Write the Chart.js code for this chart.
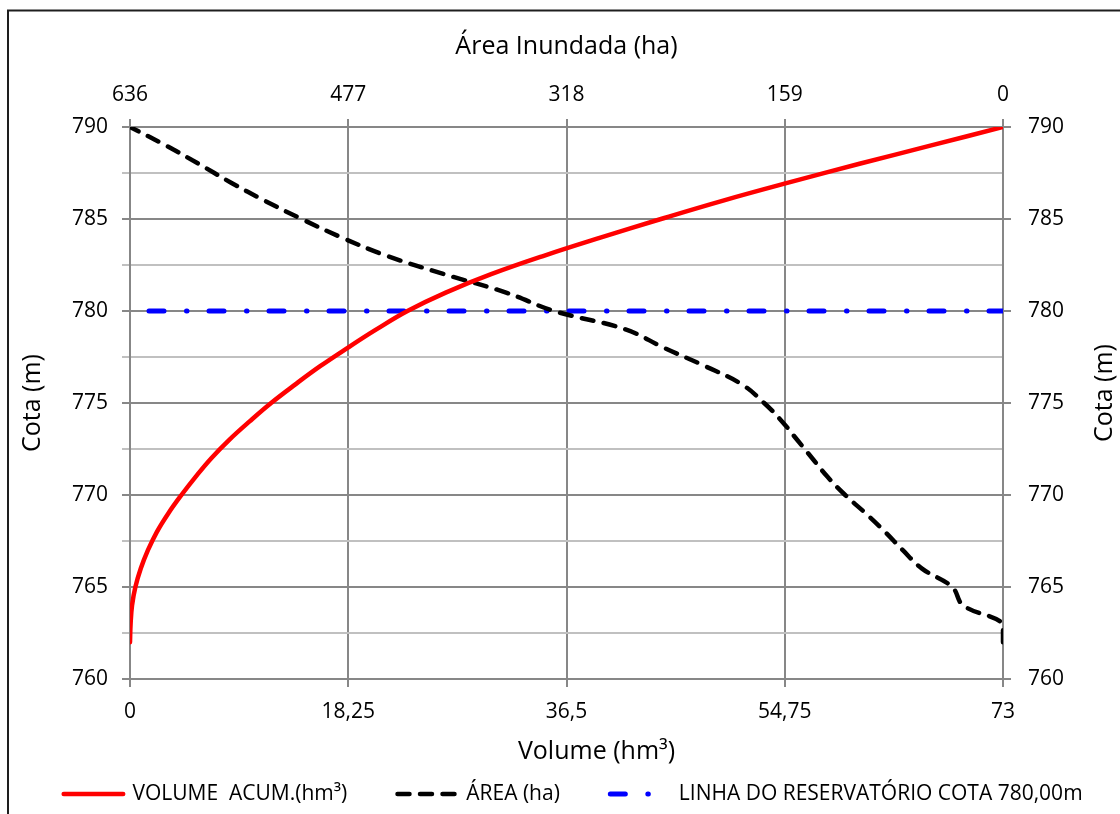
<!DOCTYPE html>
<html lang="pt">
<head>
<meta charset="utf-8">
<title>Cota x Área x Volume</title>
<script src="https://cdn.jsdelivr.net/npm/chart.js@4.4.1/dist/chart.umd.min.js"></script>
<style>
  html, body { margin: 0; padding: 0; background: #fff; }
  #wrap { position: relative; width: 1120px; height: 814px; }
</style>
</head>
<body>
<div id="wrap"><canvas id="grafico"></canvas></div>
<script>
const cotas = [762, 763, 764, 765, 766, 767, 768, 769, 770, 771, 772, 773, 774, 775, 776,
               777, 778, 779, 780, 781, 782, 783, 784, 785, 786, 787, 788, 789, 790];
const volumes = [0, 0.05, 0.17, 0.45, 0.9, 1.5, 2.25, 3.2, 4.3, 5.5, 6.8, 8.3, 10.0, 11.8, 13.8,
                 15.9, 18.2, 20.6, 23.2, 26.4, 30.2, 34.6, 39.4, 44.4, 49.6, 55.2, 61.0, 67.0, 73.0];
const areas = [0, 0, 29, 37, 59, 73, 86, 100, 115, 128, 139, 150, 161, 174, 190,
               217, 247, 275, 327, 362, 407, 449, 482, 511, 538, 563, 586, 610, 636];

const cotaReservatorio = 780;
const volumeTicks = [0, 18.25, 36.5, 54.75, 73];
const areaTicks = [636, 477, 318, 159, 0];
const cotaTicks = [760, 765, 770, 775, 780, 785, 790];

const FONTE = "'Open Sans', 'Noto Sans', sans-serif";
const CINZA = '#878787';
const CINZA_CLARO = '#c0c0c0';

Chart.defaults.font.family = FONTE;
Chart.defaults.color = '#000';

const virgula = (v) => String(v).replace('.', ',');

// moldura, títulos do eixo inferior e direito, legenda inferior
const extras = {
    id: 'extras',
    afterDraw(chart, args, opts) {
        const { ctx, chartArea } = chart;
        ctx.save();

        ctx.strokeStyle = '#1e1e1e';
        ctx.lineWidth = 2;
        ctx.beginPath();
        ctx.moveTo(8, chart.height);
        ctx.lineTo(8, 10.5);
        ctx.lineTo(chart.width, 10.5);
        ctx.stroke();

        ctx.font = `25px ${FONTE}`;
        ctx.fillStyle = '#000';
        ctx.textAlign = 'center';
        ctx.textBaseline = 'middle';
        ctx.fillText('Volume (hm³)', chartArea.left + chartArea.width / 2 + 30, chartArea.bottom + 73);

        ctx.translate(1105, (chartArea.top + chartArea.bottom) / 2 - 10);
        ctx.rotate(-Math.PI / 2);
        ctx.fillText('Cota (m)', 0, 0);
        ctx.restore();

        // legenda
        ctx.save();
        ctx.font = `${opts.size}px ${FONTE}`;
        const itens = chart.data.datasets.map(ds => ({ ds, w: ctx.measureText(ds.label).width }));
        const total = itens.reduce((s, it) => s + opts.amostra + opts.espaco + it.w, 0) + opts.gap * (itens.length - 1);
        let x = opts.centro - total / 2;
        const y = opts.y;
        itens.forEach(({ ds, w }) => {
            ctx.strokeStyle = ds.borderColor;
            ctx.lineWidth = ds.borderWidth;
            ctx.lineCap = ds.borderCapStyle || 'butt';
            ctx.setLineDash(ds.borderDash || []);
            ctx.lineDashOffset = 0;
            ctx.beginPath();
            ctx.moveTo(x + ds.borderWidth / 2, y);
            ctx.lineTo(x + opts.amostra - ds.borderWidth / 2, y);
            ctx.stroke();
            ctx.setLineDash([]);
            ctx.fillStyle = '#000';
            ctx.textAlign = 'left';
            ctx.textBaseline = 'middle';
            ctx.fillText(ds.label, x + opts.amostra + opts.espaco, y);
            x += opts.amostra + opts.espaco + w + opts.gap;
        });
        ctx.restore();
    }
};

const ticksCota = (s) => {
    const t = [];
    cotaTicks.forEach((c, i) => {
        t.push({ value: c });
        if (i < cotaTicks.length - 1) t.push({ value: (c + cotaTicks[i + 1]) / 2 });
    });
    s.ticks = t;
};

new Chart(document.getElementById('grafico'), {
    type: 'scatter',
    data: {
        datasets: [
            {
                label: 'VOLUME  ACUM.(hm³)',
                data: cotas.map((c, i) => ({ x: volumes[i], y: c })),
                xAxisID: 'x',
                yAxisID: 'y',
                showLine: true,
                borderColor: '#ff0000',
                borderWidth: 4.5,
                borderCapStyle: 'round',
                pointRadius: 0,
                tension: 0.4
            },
            {
                label: 'ÁREA (ha)',
                data: cotas.map((c, i) => ({ x: areas[i], y: c })),
                xAxisID: 'x2',
                yAxisID: 'y',
                showLine: true,
                borderColor: '#000000',
                borderWidth: 4.5,
                borderDash: [12, 10.5],
                borderCapStyle: 'round',
                pointRadius: 0,
                tension: 0.4
            },
            {
                label: 'LINHA DO RESERVATÓRIO COTA 780,00m',
                data: [
                    { x: volumeTicks[0], y: cotaReservatorio },
                    { x: volumeTicks[volumeTicks.length - 1], y: cotaReservatorio }
                ],
                xAxisID: 'x',
                yAxisID: 'y',
                showLine: true,
                borderColor: '#0000ff',
                borderWidth: 5,
                borderDash: [15, 22.5, 0.5, 22],
                borderDashOffset: 41,
                borderCapStyle: 'round',
                pointRadius: 0
            }
        ]
    },
    options: {
        responsive: true,
        maintainAspectRatio: false,
        animation: false,
        layout: { padding: { left: 0, right: 0, top: 0, bottom: 40 } },
        plugins: {
            legend: { display: false },
            tooltip: { enabled: false },
            extras: { size: 21, amostra: 64, espaco: 7, gap: 48, centro: 572, y: 794 }
        },
        scales: {
            x: {
                type: 'linear',
                position: 'bottom',
                min: 0,
                max: 73,
                afterBuildTicks: (s) => { s.ticks = volumeTicks.map(v => ({ value: v })); },
                afterFit: (s) => { s.height = 95; },
                ticks: { callback: (v) => virgula(v), padding: 12, font: { size: 21 } },
                grid: { color: CINZA, lineWidth: 2, tickLength: 8 },
                border: { color: CINZA, width: 2 }
            },
            x2: {
                type: 'linear',
                position: 'top',
                min: 0,
                max: 636,
                reverse: true,
                afterBuildTicks: (s) => { s.ticks = areaTicks.map(v => ({ value: v })); },
                afterFit: (s) => { s.height = 127; },
                ticks: { padding: 11, font: { size: 21 } },
                grid: { drawOnChartArea: false, color: CINZA, lineWidth: 2, tickLength: 8 },
                border: { color: CINZA, width: 2 },
                title: { display: true, text: 'Área Inundada (ha)', font: { size: 25 }, padding: { top: 32, bottom: 0 } }
            },
            y: {
                type: 'linear',
                position: 'left',
                min: 760,
                max: 790,
                afterBuildTicks: ticksCota,
                afterFit: (s) => { s.width = 130; },
                ticks: { callback: (v) => cotaTicks.includes(v) ? String(v) : '', padding: 14, font: { size: 21 } },
                grid: {
                    color: (c) => (c.tick && cotaTicks.includes(c.tick.value)) ? CINZA : CINZA_CLARO,
                    lineWidth: 2,
                    tickLength: 8
                },
                border: { color: CINZA, width: 2 },
                title: { display: true, text: 'Cota (m)', font: { size: 25 }, padding: { top: 18, bottom: 0 } }
            },
            y2: {
                type: 'linear',
                position: 'right',
                min: 760,
                max: 790,
                afterBuildTicks: (s) => { s.ticks = cotaTicks.map(v => ({ value: v })); },
                afterFit: (s) => { s.width = 117; },
                ticks: { padding: 17, font: { size: 21 } },
                grid: { drawOnChartArea: false, color: CINZA, lineWidth: 2, tickLength: 8 },
                border: { color: CINZA, width: 2 }
            }
        }
    },
    plugins: [extras]
});
</script>
</body>
</html>
